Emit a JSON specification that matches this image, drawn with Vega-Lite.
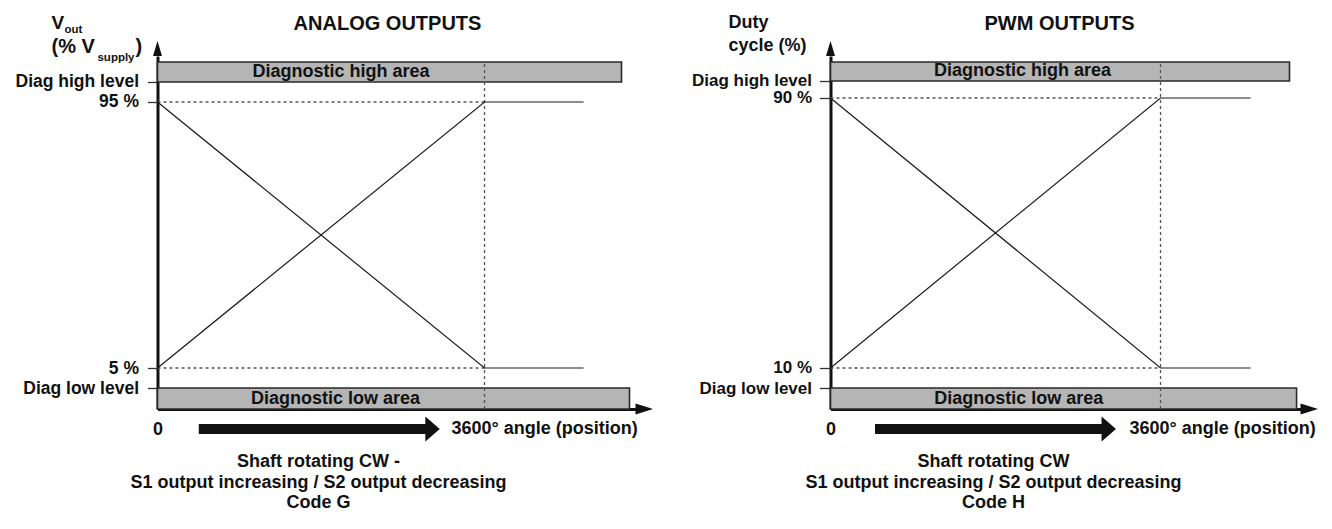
{
  "$schema": "https://vega.github.io/schema/vega-lite/v6.json",
  "background": "white",
  "padding": {"left": 14.5, "top": 13, "right": 5, "bottom": 5},
  "bounds": "flush",
  "spacing": 195,
  "config": {
    "view": {"stroke": null},
    "font": "Liberation Sans",
    "axis": {"grid": false, "domainColor": "#111", "domainWidth": 3, "labelFont": "Liberation Sans", "labelFontSize": 17.5, "labelFontWeight": "bold", "labelColor": "#111", "tickColor": "#333", "tickWidth": 1.3, "labelOverlap": false, "labelFlush": false, "title": null},
    "text": {"font": "Liberation Sans", "fontWeight": "bold", "color": "#111"}
  },
  "hconcat": [
    {
      "width": 478,
      "height": 353,
      "encoding": {
        "x": {"field": "x", "type": "quantitative", "scale": {"domain": [0, 5262], "nice": false, "zero": false},
          "axis": {"values": [0], "labelExpr": "'0'", "ticks": false, "tickSize": 0, "labelPadding": 20, "labelBaseline": "middle", "labelFontSize": 18, "title": null}},
        "y": {"field": "y", "type": "quantitative", "scale": {"domain": [-8.87, 110.56], "nice": false, "zero": false},
          "axis": {"values": [-1.77, 5, 95, 101.77], "labelExpr": "datum.value == 95 ? '95 %' : datum.value == 5 ? '5 %' : datum.value > 96 ? 'Diag high level' : 'Diag low level'", "tickSize": 10, "labelPadding": 9, "title": null}}
      },
      "layer": [
        {
          "data": {"values": [{"x": 0, "x2": 5108, "y": 101.77, "y2": 108.53}, {"x": 0, "x2": 5196, "y": -8.87, "y2": -1.77}]},
          "mark": {"type": "rect", "fill": "#b5b5b5", "stroke": "#2a2a2a", "strokeWidth": 1.6},
          "encoding": {"x2": {"field": "x2"}, "y2": {"field": "y2"}}
        },
        {
          "data": {"values": [{"x": 0, "x2": 3600, "y": 95, "y2": 95}, {"x": 0, "x2": 3600, "y": 5, "y2": 5}, {"x": 3600, "x2": 3600, "y": -8.87, "y2": 108.53}]},
          "mark": {"type": "rule", "color": "#555", "strokeWidth": 1.3, "strokeDash": [3, 3]},
          "encoding": {"x2": {"field": "x2"}, "y2": {"field": "y2"}}
        },
        {
          "data": {"values": [
            {"s": "S1", "x": 0, "y": 5}, {"s": "S1", "x": 3600, "y": 95}, {"s": "S1", "x": 4690, "y": 95},
            {"s": "S2", "x": 0, "y": 95}, {"s": "S2", "x": 3600, "y": 5}, {"s": "S2", "x": 4690, "y": 5}]},
          "mark": {"type": "line", "color": "#1a1a1a", "strokeWidth": 1.2},
          "encoding": {"detail": {"field": "s"}}
        },
        {
          "data": {"values": [{"x": 2020, "y": 105.15, "t": "Diagnostic high area"}, {"x": 1960, "y": -5.32, "t": "Diagnostic low area"}]},
          "mark": {"type": "text", "fontSize": 18, "align": "center", "baseline": "middle"},
          "encoding": {"text": {"field": "t"}}
        },
        {
          "data": {"values": [{"x": 2532, "y": 121.39, "t": "ANALOG OUTPUTS"}]},
          "mark": {"type": "text", "fontSize": 20, "align": "center", "baseline": "middle"},
          "encoding": {"text": {"field": "t"}}
        },
        {
          "data": {"values": [{"x": 1772, "y": -26.8, "t": "Shaft rotating CW -"}, {"x": 1772, "y": -33.9, "t": "S1 output increasing / S2 output decreasing"}, {"x": 1772, "y": -40.67, "t": "Code G"}]},
          "mark": {"type": "text", "fontSize": 18, "align": "center", "baseline": "middle"},
          "encoding": {"text": {"field": "t"}}
        },
        {
          "data": {"values": [{"x": 3237, "y": -15.64, "t": "3600° angle (position)"}]},
          "mark": {"type": "text", "fontSize": 18, "align": "left", "baseline": "middle"},
          "encoding": {"text": {"field": "t"}}
        },
        {
          "data": {"values": [{"x": -1167, "y": 119.7, "t": "V"}]},
          "mark": {"type": "text", "fontSize": 19, "align": "left", "baseline": "alphabetic"},
          "encoding": {"text": {"field": "t"}}
        },
        {
          "data": {"values": [{"x": -1167, "y": 111.58, "t": "(% V"}, {"x": -242, "y": 111.58, "t": ")"}]},
          "mark": {"type": "text", "fontSize": 20, "align": "left", "baseline": "alphabetic"},
          "encoding": {"text": {"field": "t"}}
        },
        {
          "data": {"values": [{"x": -1024, "y": 118.34, "t": "out"}, {"x": -661, "y": 108.87, "t": "supply"}]},
          "mark": {"type": "text", "fontSize": 11.5, "align": "left", "baseline": "alphabetic"},
          "encoding": {"text": {"field": "t"}}
        },
        {
          "data": {"values": [{"x": 0, "y": 110.56}]},
          "mark": {"type": "point", "shape": "M0,-2L-0.6,0L0.6,0Z", "size": 225, "filled": true, "color": "#111", "opacity": 1}
        },
        {
          "data": {"values": [{"x": 5262, "y": -8.87}]},
          "mark": {"type": "point", "shape": "M2,0L0,-0.625L0,0.625Z", "size": 310, "filled": true, "color": "#111", "opacity": 1}
        },
        {
          "data": {"values": [{"x": 1781, "y": -15.64}]},
          "mark": {"type": "point", "shape": "M-1,-0.0415L0.88,-0.0415L0.88,-0.104L1,0L0.88,0.104L0.88,0.0415L-1,0.0415Z", "size": 58081, "filled": true, "color": "#111", "opacity": 1}
        }
      ]
    },
    {
      "width": 470,
      "height": 353,
      "encoding": {
        "x": {"field": "x", "type": "quantitative", "scale": {"domain": [0, 5127], "nice": false, "zero": false},
          "axis": {"values": [0], "labelExpr": "'0'", "ticks": false, "tickSize": 0, "labelPadding": 20, "labelBaseline": "middle", "labelFontSize": 18, "title": null}},
        "y": {"field": "y", "type": "quantitative", "scale": {"domain": [-2.15, 102.44], "nice": false, "zero": false},
          "axis": {"values": [4.07, 10, 90, 95.04], "labelExpr": "datum.value == 90 ? '90 %' : datum.value == 10 ? '10 %' : datum.value > 91 ? 'Diag high level' : 'Diag low level'", "labelFontSize": 17, "tickSize": 11, "labelPadding": 8, "title": null}}
      },
      "layer": [
        {
          "data": {"values": [{"x": 0, "x2": 5007, "y": 95.04, "y2": 100.67}, {"x": 0, "x2": 5084, "y": -2.15, "y2": 4.07}]},
          "mark": {"type": "rect", "fill": "#b5b5b5", "stroke": "#2a2a2a", "strokeWidth": 1.6},
          "encoding": {"x2": {"field": "x2"}, "y2": {"field": "y2"}}
        },
        {
          "data": {"values": [{"x": 0, "x2": 3600, "y": 90, "y2": 90}, {"x": 0, "x2": 3600, "y": 10, "y2": 10}, {"x": 3600, "x2": 3600, "y": -2.15, "y2": 100.67}]},
          "mark": {"type": "rule", "color": "#555", "strokeWidth": 1.3, "strokeDash": [3, 3]},
          "encoding": {"x2": {"field": "x2"}, "y2": {"field": "y2"}}
        },
        {
          "data": {"values": [
            {"s": "S1", "x": 0, "y": 10}, {"s": "S1", "x": 3600, "y": 90}, {"s": "S1", "x": 4582, "y": 90},
            {"s": "S2", "x": 0, "y": 90}, {"s": "S2", "x": 3600, "y": 10}, {"s": "S2", "x": 4582, "y": 10}]},
          "mark": {"type": "line", "color": "#1a1a1a", "strokeWidth": 1.2},
          "encoding": {"detail": {"field": "s"}}
        },
        {
          "data": {"values": [{"x": 2095, "y": 97.86, "t": "Diagnostic high area"}, {"x": 2053, "y": 0.96, "t": "Diagnostic low area"}]},
          "mark": {"type": "text", "fontSize": 18, "align": "center", "baseline": "middle"},
          "encoding": {"text": {"field": "t"}}
        },
        {
          "data": {"values": [{"x": 2498, "y": 111.93, "t": "PWM OUTPUTS"}]},
          "mark": {"type": "text", "fontSize": 20, "align": "center", "baseline": "middle"},
          "encoding": {"text": {"field": "t"}}
        },
        {
          "data": {"values": [{"x": 1778, "y": -17.85, "t": "Shaft rotating CW"}, {"x": 1778, "y": -24.07, "t": "S1 output increasing / S2 output decreasing"}, {"x": 1778, "y": -30.0, "t": "Code H"}]},
          "mark": {"type": "text", "fontSize": 18, "align": "center", "baseline": "middle"},
          "encoding": {"text": {"field": "t"}}
        },
        {
          "data": {"values": [{"x": 3262, "y": -8.07, "t": "3600° angle (position)"}]},
          "mark": {"type": "text", "fontSize": 18, "align": "left", "baseline": "middle"},
          "encoding": {"text": {"field": "t"}}
        },
        {
          "data": {"values": [{"x": -1113, "y": 112.2, "t": "Duty"}, {"x": -1113, "y": 105.4, "t": "cycle (%)"}]},
          "mark": {"type": "text", "fontSize": 18, "align": "left", "baseline": "middle"},
          "encoding": {"text": {"field": "t"}}
        },
        {
          "data": {"values": [{"x": 0, "y": 102.44}]},
          "mark": {"type": "point", "shape": "M0,-2L-0.6,0L0.6,0Z", "size": 225, "filled": true, "color": "#111", "opacity": 1}
        },
        {
          "data": {"values": [{"x": 5127, "y": -2.15}]},
          "mark": {"type": "point", "shape": "M2,0L0,-0.625L0,0.625Z", "size": 310, "filled": true, "color": "#111", "opacity": 1}
        },
        {
          "data": {"values": [{"x": 1800, "y": -8.07}]},
          "mark": {"type": "point", "shape": "M-1,-0.0415L0.88,-0.0415L0.88,-0.104L1,0L0.88,0.104L0.88,0.0415L-1,0.0415Z", "size": 58081, "filled": true, "color": "#111", "opacity": 1}
        }
      ]
    }
  ]
}
